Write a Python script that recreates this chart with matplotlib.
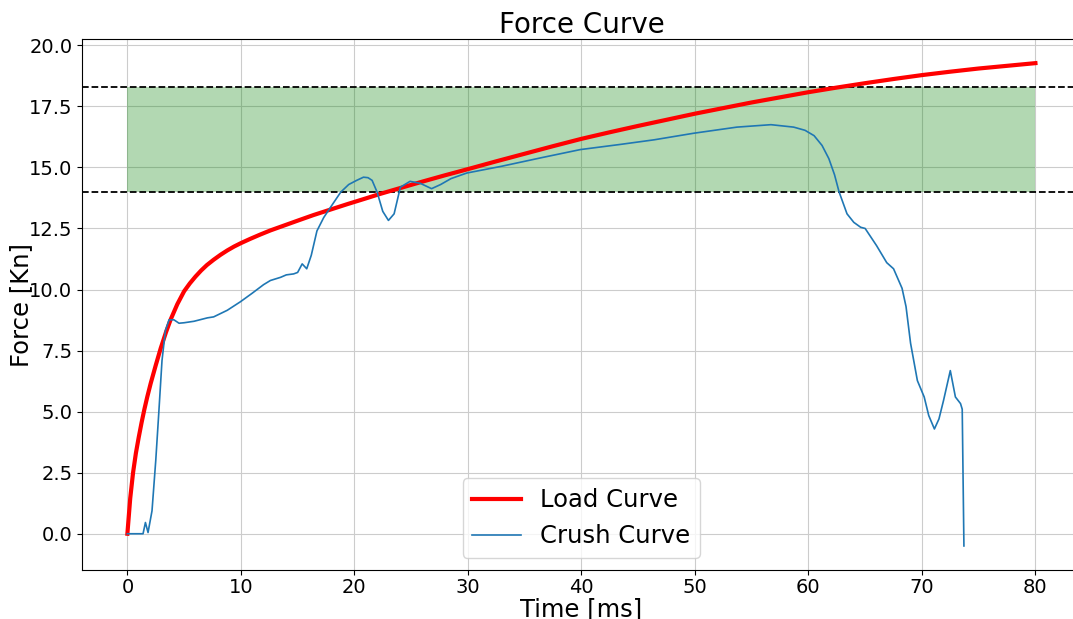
import matplotlib
matplotlib.use("Agg")
from matplotlib import pyplot as plt

# load curve readings (time ms, force kN)
load_t = [0, 0.25, 0.5, 0.75, 1.0, 1.25, 1.5, 1.75, 2.05, 2.5, 2.94, 3.4, 3.82, 4.4,
          5.0, 5.5, 6.0, 6.5, 7.0, 7.6, 8.2, 8.8, 9.4, 10, 10.8, 11.7, 12.6, 13.5, 15,
          16.4, 18, 19.4, 21, 22.3, 24, 26, 28, 30, 32.5, 35, 37.5, 40, 42.5, 45, 47.5,
          50, 52.5, 55, 57.5, 60, 62.5, 65, 67.5, 70, 72.5, 75, 77.5, 80]
load_f = [0, 1.45, 2.5, 3.3, 3.95, 4.55, 5.1, 5.6, 6.15, 6.9, 7.6, 8.25, 8.78, 9.4,
          9.93, 10.25, 10.53, 10.78, 11.0, 11.22, 11.42, 11.6, 11.76, 11.9, 12.07, 12.25,
          12.42, 12.57, 12.82, 13.05, 13.29, 13.5, 13.73, 13.92, 14.15, 14.42, 14.68,
          14.93, 15.25, 15.56, 15.87, 16.17, 16.44, 16.7, 16.95, 17.2, 17.43, 17.66,
          17.87, 18.08, 18.27, 18.45, 18.62, 18.78, 18.92, 19.05, 19.16, 19.27]

# crush curve readings
crush_t = [0, 1.38, 1.59, 1.82, 2.17, 2.5, 2.76, 3.05, 3.35, 3.67, 4.1, 4.55, 5.0, 5.87,
           7.05, 7.6, 8.8, 9.96, 11.0, 12.0, 12.6, 13.5, 14.0, 14.65, 15.0, 15.4, 15.8,
           16.2, 16.7, 17.3, 17.9, 18.8, 19.5, 20.2, 20.8, 21.2, 21.56, 22.0, 22.5, 23.0,
           23.5, 24.05, 24.9, 25.8, 26.8, 27.6, 28.5, 29.9, 33.0, 36.5, 39.9, 43.4, 46.4,
           49.9, 53.7, 56.7, 58.7, 59.7, 60.5, 61.2, 61.8, 62.3, 62.7, 63.4, 64.0, 64.6,
           65.0, 66.0, 66.9, 67.5, 68.25, 68.6, 69.0, 69.6, 70.2, 70.6, 71.1, 71.5, 71.9,
           72.5, 72.95, 73.4, 73.55, 73.7]
crush_f = [0, 0, 0.46, 0.05, 0.94, 3.0, 4.9, 7.09, 8.32, 8.76, 8.76, 8.62, 8.64, 8.7,
           8.84, 8.88, 9.15, 9.5, 9.85, 10.2, 10.37, 10.5, 10.6, 10.64, 10.7, 11.05, 10.85,
           11.4, 12.4, 12.95, 13.37, 13.99, 14.3, 14.47, 14.6, 14.58, 14.47, 13.99, 13.2,
           12.83, 13.1, 14.19, 14.43, 14.35, 14.13, 14.3, 14.54, 14.77, 15.05, 15.4, 15.73,
           15.94, 16.13, 16.4, 16.65, 16.75, 16.65, 16.52, 16.3, 15.9, 15.36, 14.7, 14.0,
           13.1, 12.75, 12.55, 12.5, 11.8, 11.1, 10.85, 10.05, 9.3, 7.8, 6.27, 5.6, 4.84,
           4.29, 4.7, 5.45, 6.68, 5.6, 5.33, 5.1, -0.5]

band_low = 14.0
band_high = 18.3
band_start, band_end = 0, 80

fig, ax = plt.subplots(figsize=(10.73, 6.19), dpi=100)
fig.subplots_adjust(left=0.0764, right=1.0073, top=0.937, bottom=0.079)

ax.fill_between([band_start, band_end], band_low, band_high, color="green", alpha=0.3, linewidth=0)
ax.axhline(band_low, color="black", linestyle="--", linewidth=1.3)
ax.axhline(band_high, color="black", linestyle="--", linewidth=1.3)

ax.plot(load_t, load_f, color="red", linewidth=3, label="Load Curve")
ax.plot(crush_t, crush_f, color="C0", linewidth=1.2, label="Crush Curve")

ax.set_xlim(-4, 84)
ax.grid(True, color="#cccccc")
ax.set_axisbelow(True)
ax.set_title("Force Curve", fontsize=20, pad=4)
ax.set_xlabel("Time [ms]", fontsize=17.5, labelpad=0)
ax.set_ylabel("Force [Kn]", fontsize=17.5, labelpad=-3)
ax.tick_params(labelsize=14)
ax.tick_params(axis="x", pad=2)
ax.legend(loc="lower center", fontsize=17.5)

fig.savefig("out.png")
